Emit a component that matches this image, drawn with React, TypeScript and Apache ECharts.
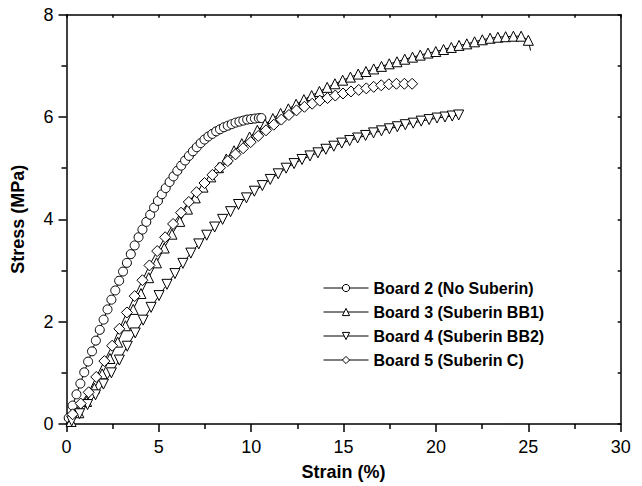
import React, { useEffect, useRef } from "react";
import * as echarts from "echarts";

// Strain (%) / Stress (MPa) pairs
const board2Strain = [0.12, 0.33, 0.54, 0.75, 0.96, 1.17, 1.38, 1.59, 1.80, 2.01, 2.22, 2.43, 2.64, 2.85, 3.06, 3.27, 3.48, 3.69, 3.90, 4.11, 4.32, 4.53, 4.74, 4.95, 5.16, 5.37, 5.58, 5.79, 6.00, 6.21, 6.42, 6.63, 6.84, 7.05, 7.26, 7.47, 7.68, 7.89, 8.10, 8.31, 8.52, 8.73, 8.94, 9.15, 9.36, 9.57, 9.78, 9.99, 10.20, 10.41, 10.55];
const board2Stress = [0.12, 0.36, 0.58, 0.79, 1.01, 1.22, 1.42, 1.63, 1.84, 2.04, 2.24, 2.43, 2.61, 2.80, 2.98, 3.15, 3.32, 3.49, 3.65, 3.80, 3.95, 4.09, 4.23, 4.36, 4.49, 4.61, 4.73, 4.84, 4.95, 5.05, 5.15, 5.24, 5.33, 5.41, 5.49, 5.56, 5.62, 5.67, 5.72, 5.76, 5.80, 5.83, 5.86, 5.89, 5.91, 5.93, 5.95, 5.96, 5.97, 5.98, 5.98];

const board3Strain = [0.25, 0.67, 1.09, 1.51, 1.93, 2.35, 2.77, 3.19, 3.61, 4.03, 4.45, 4.87, 5.29, 5.71, 6.13, 6.55, 6.97, 7.39, 7.81, 8.23, 8.65, 9.07, 9.49, 9.91, 10.33, 10.75, 11.17, 11.59, 12.01, 12.43, 12.85, 13.27, 13.69, 14.11, 14.53, 14.95, 15.37, 15.79, 16.21, 16.63, 17.05, 17.47, 17.89, 18.31, 18.73, 19.15, 19.57, 19.99, 20.41, 20.83, 21.25, 21.67, 22.09, 22.51, 22.93, 23.35, 23.77, 24.19, 24.61, 25.0, 25.12];
const board3Stress = [0.05, 0.22, 0.44, 0.70, 0.98, 1.28, 1.60, 1.92, 2.24, 2.55, 2.86, 3.15, 3.44, 3.71, 3.96, 4.20, 4.42, 4.63, 4.83, 5.01, 5.18, 5.34, 5.48, 5.61, 5.74, 5.86, 5.97, 6.07, 6.16, 6.25, 6.34, 6.42, 6.50, 6.58, 6.65, 6.72, 6.78, 6.84, 6.89, 6.94, 6.99, 7.04, 7.08, 7.13, 7.17, 7.21, 7.25, 7.28, 7.32, 7.36, 7.40, 7.43, 7.47, 7.51, 7.54, 7.56, 7.57, 7.58, 7.58, 7.50, 7.30];

const board4Strain = [0.28, 0.71, 1.14, 1.57, 2.00, 2.43, 2.86, 3.29, 3.72, 4.15, 4.58, 5.01, 5.44, 5.87, 6.30, 6.73, 7.16, 7.59, 8.02, 8.45, 8.88, 9.31, 9.74, 10.17, 10.60, 11.03, 11.46, 11.89, 12.32, 12.75, 13.18, 13.61, 14.04, 14.47, 14.90, 15.33, 15.76, 16.19, 16.62, 17.05, 17.48, 17.91, 18.34, 18.77, 19.20, 19.63, 20.06, 20.49, 20.88, 21.23];
const board4Stress = [0.06, 0.20, 0.38, 0.57, 0.78, 1.00, 1.25, 1.52, 1.78, 2.03, 2.28, 2.51, 2.73, 2.94, 3.14, 3.34, 3.52, 3.69, 3.85, 4.00, 4.15, 4.29, 4.42, 4.55, 4.66, 4.78, 4.89, 5.00, 5.09, 5.17, 5.24, 5.30, 5.37, 5.43, 5.49, 5.54, 5.59, 5.64, 5.69, 5.73, 5.77, 5.81, 5.85, 5.88, 5.92, 5.95, 5.98, 6.00, 6.02, 6.04];

const board5Strain = [0.33, 0.77, 1.20, 1.61, 2.05, 2.47, 2.86, 3.27, 3.69, 4.11, 4.49, 4.91, 5.34, 5.77, 6.20, 6.62, 7.04, 7.47, 7.90, 8.31, 8.73, 9.15, 9.56, 9.97, 10.38, 10.80, 11.22, 11.63, 12.04, 12.45, 12.88, 13.30, 13.71, 14.13, 14.55, 14.97, 15.40, 15.82, 16.23, 16.63, 17.04, 17.45, 17.86, 18.29, 18.71];
const board5Stress = [0.19, 0.40, 0.62, 0.92, 1.23, 1.53, 1.86, 2.18, 2.50, 2.81, 3.10, 3.38, 3.65, 3.91, 4.13, 4.34, 4.53, 4.71, 4.87, 5.01, 5.14, 5.27, 5.39, 5.51, 5.63, 5.74, 5.85, 5.95, 6.04, 6.13, 6.20, 6.26, 6.32, 6.37, 6.42, 6.46, 6.50, 6.53, 6.56, 6.59, 6.62, 6.64, 6.65, 6.65, 6.65];

const seriesNames = ["Board 2 (No Suberin)", "Board 3 (Suberin BB1)", "Board 4 (Suberin BB2)", "Board 5 (Suberin C)"];
const xTickLabels = ["0", "5", "10", "15", "20", "25", "30"];
const yTickLabels = ["0", "2", "4", "6", "8"];

const FONT = "'Liberation Sans', Arial, Helvetica, sans-serif";

function pairs(xs: number[], ys: number[]) {
  return xs.map((x, i) => [x, ys[i]]);
}

export default function App() {
  const ref = useRef<HTMLDivElement>(null);
  useEffect(() => {
    if (!ref.current) return;
    const chart = echarts.init(ref.current, undefined, { renderer: "svg" });
    const sym = {
      itemStyle: { color: "#ffffff", borderColor: "#000000", borderWidth: 1 },
      lineStyle: { color: "#000000", width: 1 },
      emphasis: { disabled: true },
    };
    const b3 = pairs(board3Strain, board3Stress).map((p, i, arr) =>
      i === arr.length - 1 ? { value: p, symbol: "none" } : { value: p }
    );
    const axisLine = { show: true, onZero: false, lineStyle: { color: "#000", width: 1.5 } };
    chart.setOption({
      animation: false,
      backgroundColor: "#ffffff",
      grid: { left: 66.5, right: 21.3, top: 14.7, bottom: 61.3, containLabel: false },
      legend: {
        orient: "vertical",
        left: 318,
        top: 275,
        itemWidth: 45,
        itemHeight: 9,
        itemGap: 8,
        data: seriesNames,
        lineStyle: { color: "#000", width: 1 },
        itemStyle: { color: "#fff", borderColor: "#000", borderWidth: 1 },
        textStyle: { fontFamily: FONT, fontSize: 16, fontWeight: "bold", color: "#000", lineHeight: 16 },
      },
      xAxis: [
        {
          type: "value",
          min: 0,
          max: 30,
          interval: 5,
          position: "bottom",
          name: "Strain (%)",
          nameLocation: "middle",
          nameGap: 39,
          nameTextStyle: { fontFamily: FONT, fontSize: 18, fontWeight: "bold", color: "#000" },
          axisLine,
          axisTick: { show: true, inside: false, length: 8, lineStyle: { color: "#000", width: 1.5 } },
          minorTick: { show: true, splitNumber: 2, length: 5, lineStyle: { color: "#000", width: 1.5 } },
          axisLabel: {
            fontFamily: FONT,
            fontSize: 18,
            color: "#000",
            margin: 14,
            formatter: (v: number) => xTickLabels[Math.round(v / 5)] ?? "",
          },
          splitLine: { show: false },
        },
        {
          type: "value",
          min: 0,
          max: 30,
          interval: 2.5,
          position: "top",
          axisLine,
          axisTick: { show: true, inside: true, length: 3, lineStyle: { color: "#000", width: 1.5 } },
          axisLabel: { show: false },
          splitLine: { show: false },
        },
      ],
      yAxis: [
        {
          type: "value",
          min: 0,
          max: 8,
          interval: 2,
          position: "left",
          name: "Stress (MPa)",
          nameLocation: "middle",
          nameGap: 40,
          nameTextStyle: { fontFamily: FONT, fontSize: 18, fontWeight: "bold", color: "#000" },
          axisLine,
          axisTick: { show: true, inside: false, length: 8, lineStyle: { color: "#000", width: 1.5 } },
          minorTick: { show: true, splitNumber: 2, length: 5, lineStyle: { color: "#000", width: 1.5 } },
          axisLabel: {
            fontFamily: FONT,
            fontSize: 18,
            color: "#000",
            margin: 13,
            formatter: (v: number) => yTickLabels[Math.round(v / 2)] ?? "",
          },
          splitLine: { show: false },
        },
        {
          type: "value",
          min: 0,
          max: 8,
          interval: 1,
          position: "right",
          axisLine,
          axisTick: { show: true, inside: true, length: 3, lineStyle: { color: "#000", width: 1.5 } },
          axisLabel: { show: false },
          splitLine: { show: false },
        },
      ],
      series: [
        {
          name: seriesNames[0],
          type: "line",
          data: pairs(board2Strain, board2Stress),
          symbol: "circle",
          symbolSize: 9,
          ...sym,
        },
        {
          name: seriesNames[1],
          type: "line",
          data: b3,
          symbol: "triangle",
          symbolSize: 10,
          ...sym,
        },
        {
          name: seriesNames[2],
          type: "line",
          data: pairs(board4Strain, board4Stress),
          symbol: "triangle",
          symbolRotate: 180,
          symbolSize: 10,
          ...sym,
        },
        {
          name: seriesNames[3],
          type: "line",
          data: pairs(board5Strain, board5Stress),
          symbol: "diamond",
          symbolSize: 11,
          ...sym,
        },
      ],
    });
    return () => chart.dispose();
  }, []);
  return (
    <div
      ref={ref}
      style={{ position: "absolute", left: 0, top: 0, width: 642, height: 486, background: "#fff" }}
    />
  );
}
